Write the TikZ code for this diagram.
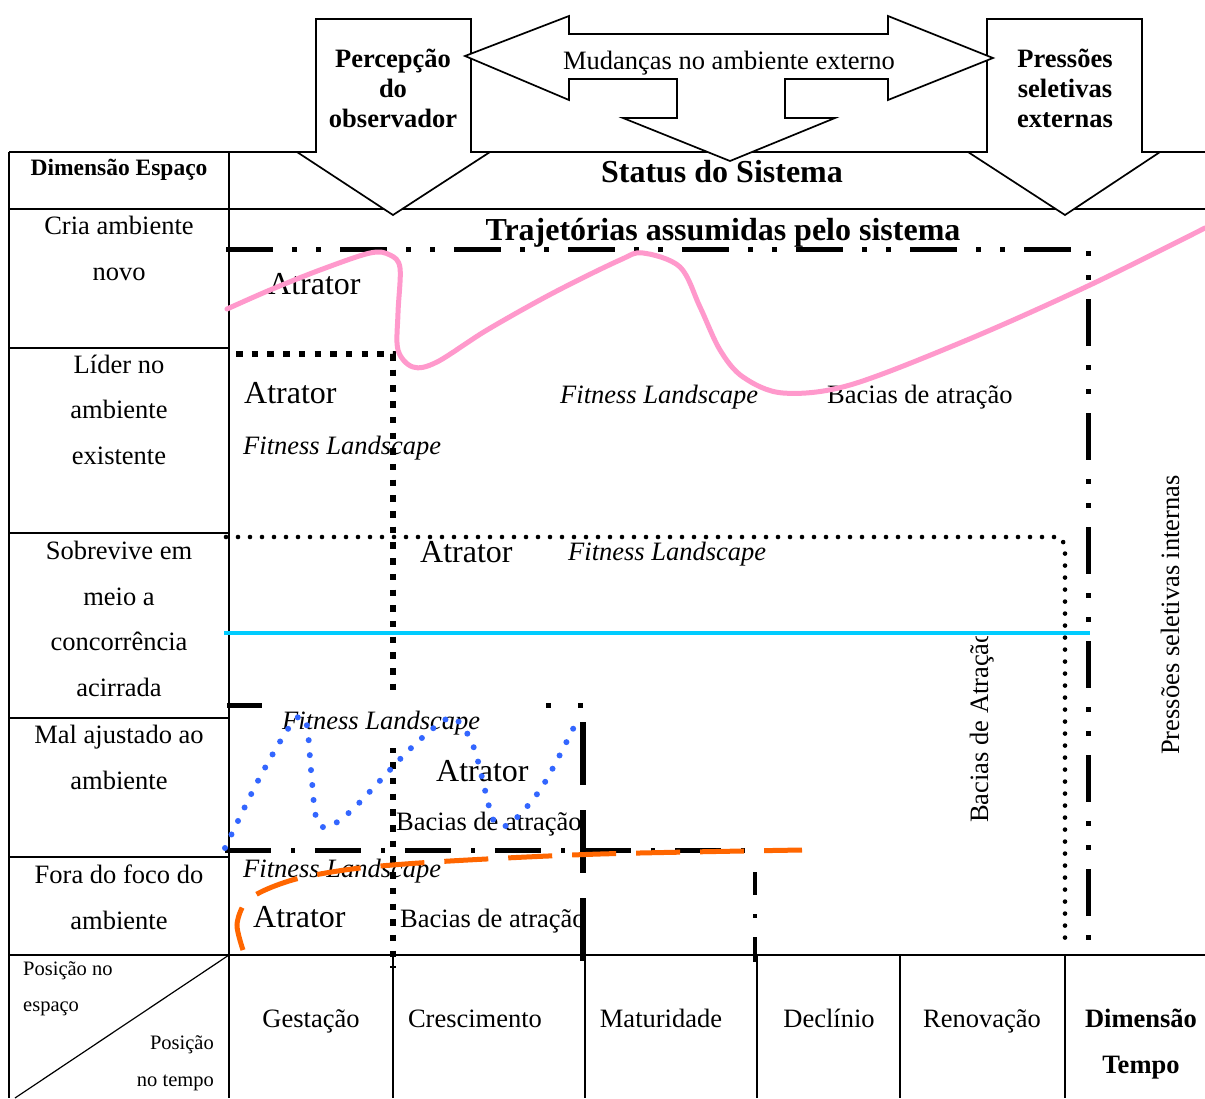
\documentclass[tikz,border=0pt]{standalone}
\usepackage{fontspec}
\setmainfont{Liberation Serif}
\begin{document}
\begin{tikzpicture}[x=1pt,y=-1pt,
  rule/.style={line width=1.8pt},
  bigarrow/.style={draw=black,fill=white,line width=1.7pt,line join=miter},
  t/.style={inner sep=0pt,font=\fontsize{26.5}{30}\selectfont},
  tb/.style={inner sep=0pt,font=\fontsize{26.5}{30}\selectfont\bfseries},
  tbig/.style={inner sep=0pt,font=\fontsize{32}{36}\selectfont\bfseries},
  ta/.style={inner sep=0pt,font=\fontsize{32}{36}\selectfont},
  ti/.style={inner sep=0pt,font=\fontsize{26.5}{30}\selectfont\itshape},
  ts/.style={inner sep=0pt,font=\fontsize{20.5}{24}\selectfont},
  th/.style={inner sep=0pt,font=\fontsize{23.5}{27}\selectfont\bfseries},
  dashdotdot/.style={line width=5pt,dash pattern=on 47pt off 19pt on 5pt off 19pt on 5pt off 19pt},
  dashdot/.style={line width=5pt,dash pattern=on 46pt off 20pt on 4pt off 20pt},
  squaredots/.style={line width=6.5pt,dash pattern=on 6.5pt off 9.2pt},
  rounddots/.style={line width=4.6pt,line cap=round,dash pattern=on 0pt off 12pt},
  pinkline/.style={draw=pinktraj,line width=5pt,line cap=round},
  bluedots/.style={draw=bluetraj,line width=6pt,line cap=round,dash pattern=on 0pt off 15pt},
  orangedash/.style={draw=orangetraj,line width=5pt,dash pattern=on 44pt off 20pt},
]
\definecolor{pinktraj}{HTML}{FF99CC}
\definecolor{cyantraj}{HTML}{00CCFF}
\definecolor{bluetraj}{HTML}{3366FF}
\definecolor{orangetraj}{HTML}{FF6600}

\useasboundingbox (0,0) rectangle (1205,1098);
\fill[white] (0,0) rectangle (1205,1098);

% ---- table grid ----
\draw[rule] (9,152) -- (1205,152);
\draw[rule] (9,209) -- (1205,209);
\draw[rule] (9,955) -- (1205,955);
\draw[rule] (9,152) -- (9,1098);
\draw[rule] (229,152) -- (229,1098);
\foreach \yy in {348,533,718,857} \draw[rule] (9,\yy) -- (229,\yy);
\foreach \xx in {393,585,757,900,1065} \draw[rule] (\xx,955) -- (\xx,1098);
\draw[line width=1.2pt] (229,955) -- (15,1098);

% ---- block arrows ----
\draw[bigarrow] (316,19) -- (471,19) -- (471,152) -- (490,152) -- (393,215) -- (297,152) -- (316,152) -- cycle;
\draw[bigarrow] (987,19) -- (1142,19) -- (1142,152) -- (1160,152) -- (1065,215) -- (968,152) -- (987,152) -- cycle;
\draw[bigarrow] (465,56) -- (569,16) -- (569,34) -- (888,34) -- (888,16) -- (993,58) -- (888,100) -- (888,79)
  -- (785,79) -- (785,118) -- (835,118) -- (730,161) -- (623,118) -- (677,118) -- (677,79) -- (569,79) -- (569,100) -- cycle;

\node[tb,anchor=base] (perc1) at (393,67) {Percepção};
\node[tb,anchor=base] (perc2) at (393,97) {do};
\node[tb,anchor=base] (perc3) at (393,127) {observador};
\node[tb,anchor=base] (pres1) at (1065,67) {Pressões};
\node[tb,anchor=base] (pres2) at (1065,97) {seletivas};
\node[tb,anchor=base] (pres3) at (1065,127) {externas};
\node[t,anchor=base] (mud) at (729,69) {Mudanças no ambiente externo};

\node[tbig,anchor=base] (status) at (722,182) {Status do Sistema};
\node[tbig,anchor=base] (traj) at (723,240) {Trajetórias assumidas pelo sistema};

% ---- left column ----
\node[th,anchor=base] (dimesp) at (119,175) {Dimensão Espaço};
\node[t,anchor=base] (r1a) at (119,234) {Cria ambiente};
\node[t,anchor=base] (r1b) at (119,280) {novo};
\node[t,anchor=base] (r2a) at (119,373) {Líder no};
\node[t,anchor=base] (r2b) at (119,418) {ambiente};
\node[t,anchor=base] (r2c) at (119,464) {existente};
\node[t,anchor=base] (r3a) at (119,559) {Sobrevive em};
\node[t,anchor=base] (r3b) at (119,605) {meio a};
\node[t,anchor=base] (r3c) at (119,650) {concorrência};
\node[t,anchor=base] (r3d) at (119,696) {acirrada};
\node[t,anchor=base] (r4a) at (119,743) {Mal ajustado ao};
\node[t,anchor=base] (r4b) at (119,789) {ambiente};
\node[t,anchor=base] (r5a) at (119,883) {Fora do foco do};
\node[t,anchor=base] (r5b) at (119,929) {ambiente};

% ---- bottom row ----
\node[ts,anchor=base west] (pe1) at (23,975) {Posição no};
\node[ts,anchor=base west] (pe2) at (23,1011) {espaço};
\node[ts,anchor=base east] (pt1) at (214,1049) {Posição};
\node[ts,anchor=base east] (pt2) at (214,1086) {no tempo};
\node[t,anchor=base] (c1) at (311,1027) {Gestação};
\node[t,anchor=base] (c2) at (475,1027) {Crescimento};
\node[t,anchor=base] (c3) at (661,1027) {Maturidade};
\node[t,anchor=base] (c4) at (829,1027) {Declínio};
\node[t,anchor=base] (c5) at (982,1027) {Renovação};
\node[tb,anchor=base] (dt1) at (1141,1027) {Dimensão};
\node[tb,anchor=base] (dt2) at (1141,1073) {Tempo};

% ---- attractor regions ----
\draw[dashdotdot] (226,249) -- (1088,249) -- (1088,945);
\draw[squaredots] (236,354) -- (393,354) -- (393,968);
\draw[rounddots] (226,537) -- (1060,537) -- (1065,545) -- (1065,948);
\draw[line width=5pt] (227,705) -- (262,705);
\fill (545.5,702.5) rectangle (550.5,707.5);
\fill (577.5,702.5) rectangle (582.5,707.5);
\draw[line width=5.5pt,dash pattern=on 63pt off 25pt] (583,722) -- (583,962);
\draw[dashdot] (225,850) -- (755,850);
\draw[line width=4.5pt,dash pattern=on 23pt off 19pt on 4pt off 19pt on 40pt] (755,872) -- (755,962);
\draw[draw=cyantraj,line width=4pt] (224,633) -- (1090,633);

% label panel inside the lower region
\fill[white] (262,697) rectangle (545,748);

% ---- region labels ----
\node[ta,anchor=base west] (at1) at (268,294) {Atrator};
\node[ta,anchor=base west] (at2) at (244,403) {Atrator};
\node[ti,anchor=base west] (fl1) at (243,454) {Fitness Landscape};
\node[ti,anchor=base west] (fl2) at (560,403) {Fitness Landscape};
\node[t,anchor=base west] (ba1) at (827,403) {Bacias de atração};
\node[ta,anchor=base west] (at3) at (420,562) {Atrator};
\node[ti,anchor=base west] (fl3) at (568,560) {Fitness Landscape};
\node[ti,anchor=base west] (fl4) at (282,729) {Fitness Landscape};
\node[ta,anchor=base west] (at4) at (436,781) {Atrator};
\node[ti,anchor=base west] (fl5) at (243,877) {Fitness Landscape};
\node[ta,anchor=base west] (at5) at (253,927) {Atrator};
\begin{scope}
  \clip (0,0) rectangle (581,1098);
  \node[t,anchor=base west] (ba2) at (396,830) {Bacias de atração};
  \node[t,anchor=base west] (ba3) at (400,927) {Bacias de atração};
\end{scope}
\begin{scope}
  \clip (900,636) rectangle (1050,1000);
  \node[t,anchor=base west,rotate=90] (ba4) at (988,823) {Bacias de Atração};
\end{scope}
\node[t,anchor=base west,rotate=90] (psi) at (1179,755) {Pressões seletivas internas};

% ---- trajectories ----
\draw[pinkline] plot[smooth,tension=0.55] coordinates {(227,309) (270,290) (320,270) (370,253) (390,255) (400,268) (398,313) (398,350) (413,367) (437,362) (487,330) (553,293) (620,260) (643,253) (680,267) (700,307) (720,350) (743,377) (783,393) (850,385) (967,340) (1090,285) (1205,228)};
\draw[bluedots] plot[smooth,tension=0.55] coordinates {(225,848) (260,777) (293,722) (306,722) (311,770) (316,817) (327,827) (353,809) (408,751) (443,721) (457,720) (474,748) (490,810) (497,824) (511,823) (542,787) (574,727)};
\draw[orangedash] plot[smooth,tension=0.5] coordinates {(243,950) (237,925) (245,903) (265,890) (300,878) (360,868) (450,861) (600,854) (802,850)};
\end{tikzpicture}
\end{document}
